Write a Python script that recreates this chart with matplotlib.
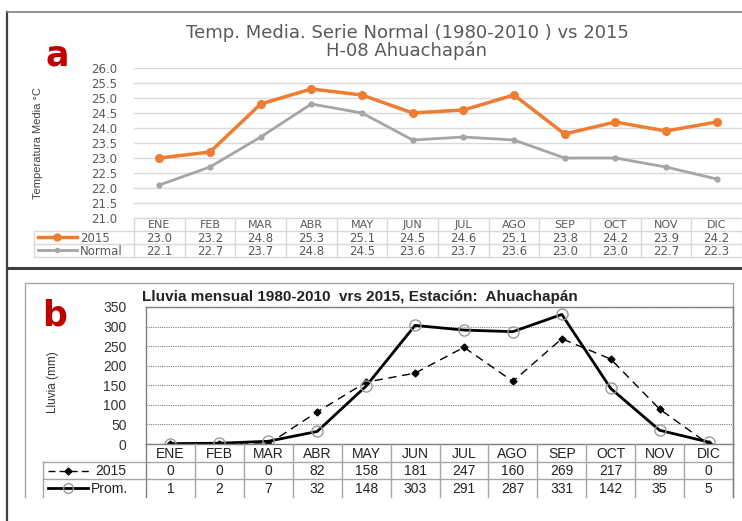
import matplotlib.pyplot as plt
import numpy as np

W, H = 742, 521

# datos
meses = ['ENE', 'FEB', 'MAR', 'ABR', 'MAY', 'JUN', 'JUL', 'AGO', 'SEP', 'OCT', 'NOV', 'DIC']
temp_2015 = [23.0, 23.2, 24.8, 25.3, 25.1, 24.5, 24.6, 25.1, 23.8, 24.2, 23.9, 24.2]
temp_normal = [22.1, 22.7, 23.7, 24.8, 24.5, 23.6, 23.7, 23.6, 23.0, 23.0, 22.7, 22.3]
lluvia_2015 = [0, 0, 0, 82, 158, 181, 247, 160, 269, 217, 89, 0]
lluvia_prom = [1, 2, 7, 32, 148, 303, 291, 287, 331, 142, 35, 5]

naranja = '#ED7D31'
gris = '#A5A5A5'
texto_a = '#595959'

fig = plt.figure(figsize=(W / 100, H / 100), dpi=100)


def eje(x0, y0, x1, y1):
    # ejes posicionados en pixeles (origen arriba a la izquierda)
    ax = fig.add_axes([x0 / W, 1 - y1 / H, (x1 - x0) / W, (y1 - y0) / H])
    ax.set_facecolor('none')
    return ax


# marcos de la figura
fondo = eje(0, 0, W, H)
fondo.set_xlim(0, W)
fondo.set_ylim(H, 0)
fondo.axis('off')
fondo.plot([7, 7], [12, H], color='#404040', lw=1.6)
fondo.plot([7, W], [12, 12], color='#808080', lw=1.2)
fondo.plot([7, W], [268, 268], color='#404040', lw=2.2)
fondo.plot([25, 25, 733, 733], [497, 283, 283, 497], color='#A6A6A6', lw=1)

# ---------------- a: temperatura ----------------
x = np.arange(len(meses))
ax1 = eje(134, 68, 742, 218)
ax1.plot(x, temp_normal, color=gris, lw=2, marker='o', ms=3.5)
ax1.plot(x, temp_2015, color=naranja, lw=2.5, marker='o', ms=5.5)
ax1.set_xlim(-0.5, 11.5)
ax1.set_ylim(21, 26)
ax1.set_yticks(np.arange(21, 26.01, 0.5))
ax1.set_yticklabels(['%.1f' % v for v in np.arange(21, 26.01, 0.5)])
ax1.set_xticks([])
ax1.grid(axis='y', color='#D9D9D9', lw=1)
ax1.set_axisbelow(True)
for s in ax1.spines.values():
    s.set_visible(False)
ax1.tick_params(axis='y', length=0, pad=12, labelsize=8.5, labelcolor=texto_a)

fig.text(407 / W, 1 - 33 / H, 'Temp. Media. Serie Normal (1980-2010 ) vs 2015',
         ha='center', va='center', fontsize=13, color=texto_a)
fig.text(407 / W, 1 - 51 / H, 'H-08 Ahuachapán',
         ha='center', va='center', fontsize=13, color=texto_a)
fig.text(57 / W, 1 - 66 / H, 'a', ha='center', va='baseline', fontsize=25,
         fontweight='bold', color='#C00000')
fig.text(38 / W, 1 - 143 / H, 'Temperatura Media °C', rotation=90, ha='center',
         va='center', fontsize=8, color='#404040', family='Liberation Sans')

# tabla a
tab1 = eje(134, 218, 742, 257)
tab1.set_xlim(-0.5, 11.5)
tab1.set_ylim(3, 0)
tab1.axis('off')
izq1 = -0.5 + (34 - 134) / 50.67
lc = '#D9D9D9'
tab1.plot([-0.5, 11.5], [0, 0], color=lc, lw=1, clip_on=False)
for yy in [1, 2, 3]:
    tab1.plot([izq1, 11.5], [yy, yy], color=lc, lw=1, clip_on=False)
for k in range(13):
    tab1.plot([k - 0.5, k - 0.5], [0, 3], color=lc, lw=1, clip_on=False)
tab1.plot([izq1, izq1], [1, 3], color=lc, lw=1, clip_on=False)
for i, m in enumerate(meses):
    tab1.text(i, 0.55, m, ha='center', va='center', fontsize=8, color=texto_a)
    tab1.text(i, 1.55, '%.1f' % temp_2015[i], ha='center', va='center', fontsize=8.5, color=texto_a)
    tab1.text(i, 2.55, '%.1f' % temp_normal[i], ha='center', va='center', fontsize=8.5, color=texto_a)
tab1.plot([-2.39, -1.62], [1.5, 1.5], color=naranja, lw=2.5, clip_on=False)
tab1.plot([-2.02], [1.5], color=naranja, marker='o', ms=5, clip_on=False)
tab1.plot([-2.39, -1.62], [2.5, 2.5], color=gris, lw=2, clip_on=False)
tab1.plot([-2.02], [2.5], color=gris, marker='o', ms=3, clip_on=False)
tab1.text(-1.57, 1.55, '2015', ha='left', va='center', fontsize=8.5, color=texto_a)
tab1.text(-1.57, 2.55, 'Normal', ha='left', va='center', fontsize=8.5, color=texto_a)

# ---------------- b: lluvia ----------------
ax2 = eje(146, 307, 733, 444)
ax2.plot(x, lluvia_2015, color='black', lw=1, ls=(0, (6, 4)), marker='D', ms=3.5)
ax2.plot(x, lluvia_prom, color='black', lw=2, marker='o', ms=8, mfc='none',
         mec='#9A9A9A', mew=1)
ax2.set_xlim(-0.5, 11.5)
ax2.set_ylim(0, 350)
ax2.set_yticks(np.arange(0, 351, 50))
ax2.set_xticks([])
ax2.grid(axis='y', color='#808080', lw=0.8, ls=(0, (1, 1)))
ax2.set_axisbelow(True)
for s in ax2.spines.values():
    s.set_color('#808080')
    s.set_linewidth(1)
ax2.tick_params(axis='y', length=0, pad=14, labelsize=10, labelcolor='#333333')
for t in ax2.get_yticklabels():
    t.set_family('Liberation Sans')

fig.text(142 / W, 1 - 297 / H, 'Lluvia mensual 1980-2010  vrs 2015, Estación:  Ahuachapán',
         ha='left', va='center', fontsize=11, fontweight='bold', color='#222222',
         family='Liberation Sans')
fig.text(55 / W, 1 - 326 / H, 'b', ha='center', va='baseline', fontsize=25,
         fontweight='bold', color='#C00000')
fig.text(53 / W, 1 - 382 / H, 'Lluvia (mm)', rotation=90, ha='center',
         va='center', fontsize=8.5, color='#333333', family='Liberation Sans')

# tabla b
tab2 = eje(146, 444, 733, 497)
tab2.set_xlim(-0.5, 11.5)
tab2.set_ylim(3, 0)
tab2.axis('off')
izq2 = -0.5 + (43 - 146) / 48.92
lc2 = '#A6A6A6'
for yy in [1, 2]:
    tab2.plot([izq2, 11.5], [yy, yy], color=lc2, lw=1, clip_on=False)
for k in range(13):
    col = '#808080' if k in (0, 12) else lc2
    tab2.plot([k - 0.5, k - 0.5], [0, 3], color=col, lw=1, clip_on=False)
tab2.plot([izq2, izq2], [1, 3], color=lc2, lw=1, clip_on=False)
for i, m in enumerate(meses):
    tab2.text(i, 0.55, m, ha='center', va='center', fontsize=10, color='#222222',
              family='Liberation Sans')
    tab2.text(i, 1.55, str(lluvia_2015[i]), ha='center', va='center', fontsize=10,
              color='#222222', family='Liberation Sans')
    tab2.text(i, 2.55, str(lluvia_prom[i]), ha='center', va='center', fontsize=10,
              color='#222222', family='Liberation Sans')
c0 = -0.5 + (48 - 146) / 48.92
c1 = -0.5 + (90 - 146) / 48.92
cm = -0.5 + (68 - 146) / 48.92
tab2.plot([c0, c1], [1.5, 1.5], color='black', lw=1, ls=(0, (5, 3)), clip_on=False)
tab2.plot([cm], [1.5], color='black', marker='D', ms=3.5, clip_on=False)
tab2.plot([c0, c1 - 0.05], [2.5, 2.5], color='black', lw=2, clip_on=False)
tab2.plot([cm], [2.5], marker='o', ms=7, mfc='none', mec='#9A9A9A', mew=1, clip_on=False)
tab2.text(-0.5 + (95 - 146) / 48.92, 1.55, '2015', ha='left', va='center', fontsize=10,
          color='#222222', family='Liberation Sans')
tab2.text(-0.5 + (91 - 146) / 48.92, 2.55, 'Prom.', ha='left', va='center', fontsize=10,
          color='#222222', family='Liberation Sans')

fig.savefig('out.png', dpi=100)
